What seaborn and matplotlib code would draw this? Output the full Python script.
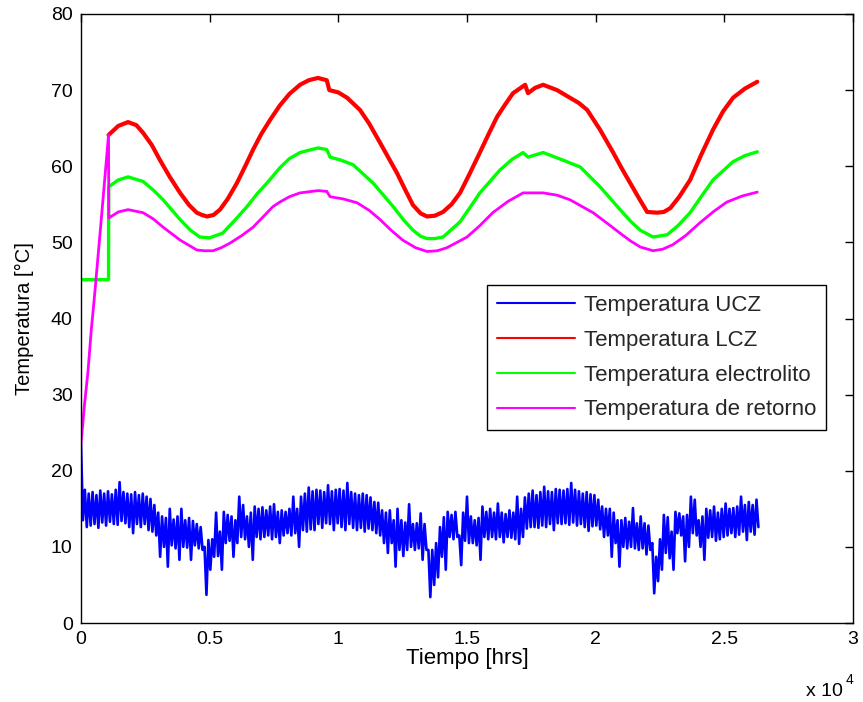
import numpy as np
import pandas as pd
import matplotlib
matplotlib.use("Agg")
import matplotlib.pyplot as plt
import seaborn as sns

# ---------------- data ----------------
x_ticks = [0, 5000, 10000, 15000, 20000, 25000, 30000]
x_tick_labels = ["0", "0.5", "1", "1.5", "2", "2.5", "3"]
y_ticks = [0, 10, 20, 30, 40, 50, 60, 70, 80]

labels = ["Temperatura UCZ", "Temperatura LCZ",
          "Temperatura electrolito", "Temperatura de retorno"]

# UCZ: upper / lower envelope of the noisy band, one pair every 150 h
ucz_step = 150
ucz_hi = [23.5, 17.5, 17.0, 17.2, 16.8, 17.4, 17.0, 17.3, 16.9, 17.5,
          18.5, 17.2, 17.0, 16.9, 17.2, 16.8, 17.0, 16.6, 16.3, 15.5,
          14.5, 14.0, 13.8, 15.0, 13.6, 14.0, 15.0, 13.5, 13.8, 13.4,
          13.0, 12.6, 10.0, 10.9, 11.0, 14.5, 12.0, 14.6, 14.2, 14.0,
          13.5, 16.6, 15.5, 14.0, 14.5, 15.3, 15.0, 15.2, 14.8, 15.3,
          15.6, 14.6, 14.8, 14.6, 15.0, 16.6, 15.0, 16.6, 17.0, 17.8,
          17.3, 17.5, 17.4, 17.2, 18.1, 17.3, 17.5, 17.6, 17.4, 18.4,
          17.2, 17.0, 16.8, 17.0, 16.8, 16.5, 15.9, 15.8, 14.8, 14.5,
          14.8, 13.5, 15.0, 13.5, 13.2, 15.6, 13.0, 13.1, 14.4, 13.0,
          9.6, 9.6, 10.5, 12.6, 13.9, 14.6, 14.2, 14.6, 11.5, 14.5,
          16.6, 14.0, 13.5, 13.8, 15.3, 14.6, 15.0, 14.5, 15.7, 14.5,
          14.3, 14.8, 14.5, 16.6, 15.0, 16.5, 17.0, 17.4, 16.8, 17.2,
          17.9, 17.3, 17.2, 17.6, 17.5, 17.4, 17.6, 18.4, 17.5, 17.3,
          17.0, 17.2, 16.9, 16.8, 16.2, 15.3, 15.0, 15.0, 14.5, 13.5,
          13.5, 13.8, 13.3, 15.1, 13.1, 14.0, 13.1, 12.8, 10.5, 8.7,
          11.0, 14.2, 13.9, 12.0, 14.6, 14.4, 14.0, 14.2, 16.6, 16.2,
          13.5, 14.0, 15.0, 14.8, 15.3, 14.5, 15.0, 15.7, 15.0, 15.1,
          15.3, 16.6, 15.5, 15.9, 15.5, 16.2]
ucz_lo = [13.5, 12.6, 12.8, 13.0, 12.5, 13.2, 12.8, 13.3, 13.0, 12.9,
          13.4, 13.1, 12.6, 11.8, 13.0, 12.6, 13.0, 12.2, 12.0, 11.5,
          8.7, 10.0, 7.4, 10.2, 9.8, 8.3, 10.0, 9.9, 8.3, 10.2,
          9.8, 9.6, 3.7, 7.0, 8.7, 8.8, 7.0, 10.5, 10.8, 8.7,
          10.5, 11.3, 11.0, 10.0, 8.3, 11.3, 11.0, 11.3, 11.5, 11.0,
          11.3, 10.5, 11.5, 11.8, 11.5, 11.8, 10.0, 12.2, 12.0, 12.3,
          12.2, 13.0, 12.5, 13.1, 13.0, 12.2, 13.1, 12.6, 12.2, 13.0,
          12.5, 12.2, 12.5, 12.0, 12.4, 12.2, 11.8, 11.5, 10.5, 9.2,
          10.5, 7.4, 9.6, 8.8, 9.6, 10.0, 9.6, 9.8, 8.3, 9.6,
          3.4, 5.0, 6.0, 8.7, 7.0, 11.3, 11.0, 11.3, 7.6, 10.8,
          10.5, 10.5, 10.2, 8.3, 11.3, 11.0, 11.3, 11.0, 11.3, 10.6,
          11.3, 11.2, 11.0, 10.4, 11.3, 12.4, 12.6, 12.6, 12.5, 12.8,
          12.6, 13.0, 12.2, 13.1, 13.0, 13.1, 12.9, 13.2, 12.8, 13.0,
          12.6, 12.1, 12.7, 12.8, 12.3, 11.3, 11.5, 8.7, 10.5, 7.4,
          10.0, 9.8, 10.0, 9.8, 9.6, 9.8, 9.0, 9.6, 3.9, 5.5,
          7.0, 9.2, 8.5, 7.0, 11.8, 11.5, 8.1, 10.0, 11.8, 11.5,
          10.0, 8.3, 11.2, 11.3, 10.8, 11.0, 11.3, 11.5, 11.8, 11.3,
          11.6, 12.0, 10.9, 12.0, 11.6, 12.6]

lcz_t = [1070, 1450, 1830, 2150, 2410, 2750, 3070, 3450, 3850, 4200,
         4500, 4700, 4900, 5150, 5400, 5700, 6060, 6380, 6690, 7000,
         7350, 7730, 8100, 8510, 8850, 9210, 9550, 9650, 10000, 10340,
         10840, 11200, 11620, 12280, 12600, 12900, 13200, 13450, 13750, 14070,
         14400, 14730, 15100, 15500, 15850, 16170, 16500, 16790, 17260, 17370,
         17650, 17960, 18500, 19000, 19350, 19670, 20170, 20680, 21000, 21340,
         21700, 22000, 22390, 22650, 22900, 23250, 23670, 24100, 24560, 24950,
         25340, 25800, 26280]
lcz_v = [64.1, 65.3, 65.8, 65.4, 64.4, 62.8, 60.8, 58.6, 56.5, 54.9,
         53.9, 53.6, 53.4, 53.6, 54.3, 55.7, 57.8, 60.0, 62.2, 64.2,
         66.1, 68.0, 69.5, 70.7, 71.3, 71.6, 71.3, 70.0, 69.7, 69.0,
         67.4, 65.6, 63.1, 59.1, 56.9, 54.9, 53.8, 53.4, 53.5, 54.0,
         55.0, 56.5, 59.0, 61.8, 64.3, 66.5, 68.2, 69.6, 70.7, 69.6,
         70.3, 70.7, 70.0, 69.0, 68.3, 67.4, 64.8, 61.8, 59.8, 57.8,
         55.7, 54.0, 53.9, 54.0, 54.5, 56.0, 58.2, 61.5, 64.8, 67.2,
         69.0, 70.2, 71.1]

elec_t = [0, 1070, 1075, 1450, 1830, 2410, 2800, 3190, 3850, 4250,
          4620, 5000, 5500, 5950, 6450, 6850, 7230, 7730, 8100, 8510,
          8850, 9210, 9550, 9680, 10100, 10570, 11350, 12130, 12550, 12900,
          13200, 13450, 13750, 14070, 14730, 15100, 15500, 16280, 16750, 17180,
          17370, 17960, 18730, 19400, 20170, 20950, 21350, 21730, 22230, 22780,
          23200, 23670, 24100, 24560, 25340, 25800, 26280]
elec_v = [45.1, 45.1, 57.3, 58.2, 58.6, 58.0, 56.9, 55.6, 53.0, 51.6,
          50.7, 50.6, 51.2, 52.8, 54.7, 56.4, 57.8, 59.8, 61.0, 61.8,
          62.1, 62.4, 62.2, 61.2, 60.8, 60.2, 57.8, 54.7, 52.9, 51.6,
          50.8, 50.5, 50.5, 50.7, 52.7, 54.5, 56.5, 59.5, 60.9, 61.8,
          61.2, 61.8, 60.8, 59.9, 57.3, 54.3, 52.8, 51.6, 50.7, 51.0,
          52.2, 53.9, 56.0, 58.2, 60.6, 61.4, 61.9]

ret_t = [0, 130, 270, 400, 540, 670, 800, 940, 1070, 1080,
         1450, 1830, 2410, 2800, 3190, 3850, 4500, 4800, 5130, 5450,
         5790, 6250, 6690, 7460, 7730, 8100, 8510, 9210, 9550, 9680,
         10200, 10730, 11200, 11620, 12050, 12500, 13000, 13450, 13850, 14220,
         15000, 15500, 16000, 16600, 17180, 17960, 18500, 19000, 19900, 20450,
         20950, 21350, 21730, 22230, 22600, 23000, 23500, 24060, 24600, 25100,
         25700, 26280]
ret_v = [23.5, 28.5, 33.0, 38.5, 43.5, 48.5, 53.5, 59.0, 64.1, 53.2,
         54.0, 54.3, 53.9, 53.1, 52.0, 50.3, 49.0, 48.9, 48.9, 49.3,
         49.9, 50.9, 52.0, 54.7, 55.3, 56.0, 56.5, 56.8, 56.7, 56.0,
         55.7, 55.2, 54.2, 53.0, 51.6, 50.3, 49.3, 48.8, 48.9, 49.3,
         50.7, 52.2, 53.9, 55.4, 56.5, 56.5, 56.2, 55.6, 53.9, 52.5,
         51.2, 50.2, 49.4, 48.9, 49.1, 49.7, 50.9, 52.6, 54.1, 55.3,
         56.1, 56.6]

colors = ["#0000ff", "#ff0000", "#00ff00", "#ff00ff"]

# ---------------- plot ----------------
sns.set_theme(style="white")
plt.rcParams['font.family'] = ['Liberation Sans', 'DejaVu Sans']

fig = plt.figure(figsize=(8.63, 7.02), dpi=100)
ax = fig.add_axes([81 / 863, 79 / 702, 772 / 863, 609 / 702])

# noisy UCZ band: alternate upper and lower envelope values
ucz_base = np.arange(len(ucz_hi)) * ucz_step
ucz_time = np.column_stack([ucz_base, ucz_base + ucz_step / 2]).ravel()
ucz_vals = np.column_stack([ucz_hi, ucz_lo]).ravel()

sns.lineplot(x=ucz_time, y=ucz_vals, ax=ax, color=colors[0], lw=1.9,
             label=labels[0], estimator=None, sort=False)
sns.lineplot(x=lcz_t, y=lcz_v, ax=ax, color=colors[1], lw=3.0,
             label=labels[1], estimator=None, sort=False)
sns.lineplot(x=elec_t, y=elec_v, ax=ax, color=colors[2], lw=2.4,
             label=labels[2], estimator=None, sort=False)
sns.lineplot(x=ret_t, y=ret_v, ax=ax, color=colors[3], lw=2.0,
             label=labels[3], estimator=None, sort=False)

ax.set_xlim(0, 30000)
ax.set_ylim(0, 80)
ax.set_xticks(x_ticks)
ax.set_xticklabels(x_tick_labels)
ax.set_yticks(y_ticks)
ax.tick_params(direction='in', top=True, right=True, length=6, width=1,
               labelsize=14, color='black', labelcolor='black', pad=6)
for s in ax.spines.values():
    s.set_color('black')
    s.set_linewidth(1)

ax.set_xlabel("Tiempo [hrs]", fontsize=16, color='black', labelpad=0)
ax.set_ylabel("Temperatura [°C]", fontsize=14.5, color='black', labelpad=12)

fig.text(843 / 863, 1 - 691 / 702, "x 10", fontsize=14, ha='right',
         va='center', color='black')
fig.text(846 / 863, 1 - 680 / 702, "4", fontsize=10, ha='left',
         va='center', color='black')

leg = ax.legend(loc='upper right', bbox_to_anchor=((826 - 81) / 772, (623 - 285) / 609),
                fontsize=16, frameon=True, fancybox=False, framealpha=1,
                edgecolor='black', handlelength=3.5, handletextpad=0.4,
                borderpad=0.45, labelspacing=0.62, borderaxespad=0)
leg.get_frame().set_linewidth(1)
for h in leg.get_lines():
    h.set_linewidth(1.5)

fig.savefig("out.png", dpi=100, facecolor='white')
